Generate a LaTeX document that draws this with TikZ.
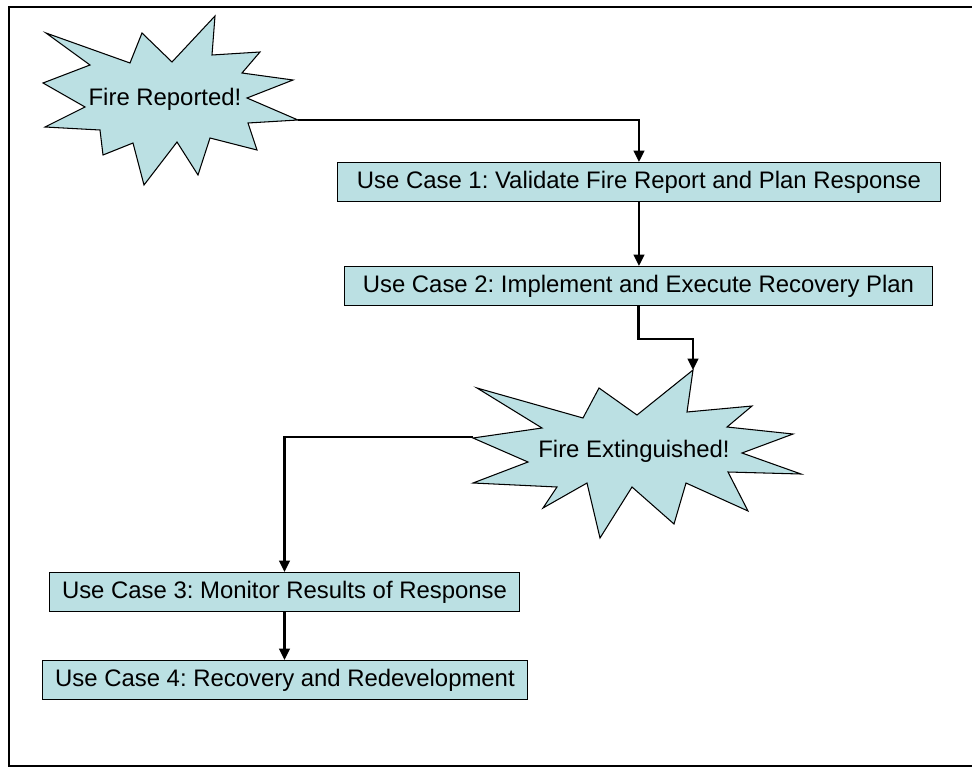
\documentclass[tikz,border=0pt]{standalone}
\usepackage{fontspec}
\setmainfont{Liberation Sans}
\usetikzlibrary{arrows.meta,positioning}
\definecolor{burstfill}{HTML}{BBE0E3}
\frenchspacing

\begin{document}
\begin{tikzpicture}[x=0.02cm,y=-0.02cm,
        font=\fontsize{13.6}{16}\selectfont\frenchspacing,
        usecase/.style={draw, fill=burstfill, line width=0.6pt, anchor=north west,
            inner xsep=0pt, inner ysep=0pt, minimum height=0.78cm,
            text height=0.72em, text depth=0pt},
        burst/.style={draw, fill=burstfill, line width=0.6pt},
        flow/.style={line width=1.5pt, -{Triangle[length=6.5pt,width=6pt]}}]
            \useasboundingbox (0,0) rectangle (972,767);
            % frame
            \draw[line width=1.4pt] (972,7) -- (9,7) -- (9,766) -- (972,766);

            % bursts
            \draw[burst] (46,33) -- (130,63) -- (142,33) -- (172,62) -- (215,16) -- (212,55)
                -- (260,52) -- (242,73) -- (293,80) -- (247,98) -- (298,120) -- (248,123)
                -- (257,150) -- (210,138) -- (198,175) -- (177,142) -- (144,185) -- (133,143)
                -- (103,155) -- (100,130) -- (45,127) -- (85,107) -- (43,83) -- (90,65) -- cycle;
            \draw[burst] (477,388) -- (583,418) -- (599,388) -- (637,415) -- (693,370) -- (687,412)
                -- (752,406) -- (727,427) -- (793,434) -- (742,453) -- (801,474) -- (728,472)
                -- (748,511) -- (686,483) -- (674,524) -- (632,487) -- (600,538) -- (587,483)
                -- (543,508) -- (557,487) -- (473,483) -- (528,462) -- (473,438) -- (542,428) -- cycle;
            \node[text height=0.72em, text depth=0pt] (fire_rep) at (165,99) {Fire Reported!};
            \node[text height=0.72em, text depth=0pt] (fire_ext) at (634,451) {Fire Extinguished!};
            \coordinate (rep_tip) at (298,120);
            \coordinate (ext_top) at (693,370);
            \coordinate (ext_left) at (473,437);

            % use cases
            \node[usecase, minimum width=12.06cm] (uc_1) at (337,162) {Use Case 1: Validate Fire Report and Plan Response};
            \node[usecase, minimum width=11.76cm] (uc_2) at (344,266) {Use Case 2: Implement and Execute Recovery Plan};
            \node[usecase, minimum width=9.40cm] (uc_3) at (49,572) {Use Case 3: Monitor Results of Response};
            \node[usecase, minimum width=9.70cm] (uc_4) at (42,660) {Use Case 4: Recovery and Redevelopment};

            \draw[flow] (rep_tip) -| (uc_1.north);
            \draw[flow] (uc_1.south) -- (uc_1.south |- uc_2.north);
            \draw[flow] (uc_2.south) -- ++(0,33) -| (ext_top);
            \draw[flow] (ext_left) -| (uc_3.north);
            \draw[flow] (uc_3.south) -- (uc_3.south |- uc_4.north);
        \end{tikzpicture}
\end{document}
